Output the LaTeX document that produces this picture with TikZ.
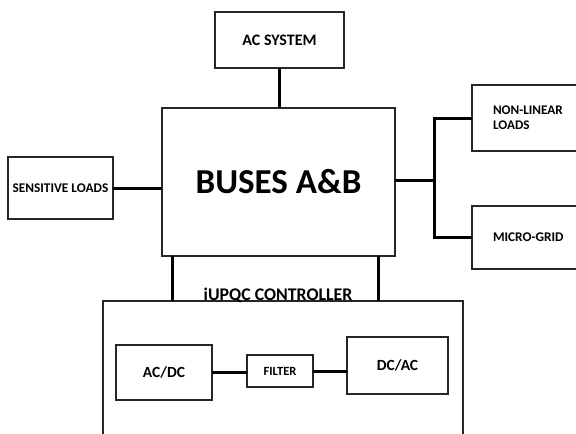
\documentclass[tikz,border=0pt]{standalone}
\usepackage{fontspec}
\setmainfont{Carlito}
\begin{document}
\begin{tikzpicture}[x=1pt,y=-1pt,
  box/.style={draw=black!85, line width=1.6pt, inner sep=0pt, outer sep=0pt, align=center},
  wire/.style={line width=3pt, black},
  fs/.style={font=\bfseries\fontsize{#1}{#1}\selectfont}]
\useasboundingbox (0,0) rectangle (576,434);
\clip (0,0) rectangle (576,434);
\node[box, fs=16, minimum width=129pt, minimum height=56pt] (ac) at (279.5,40) {AC SYSTEM};
\node[box, fs=35, minimum width=233pt, minimum height=148pt] (buses) at (278.5,182) {BUSES A\&B};
\node[box, fs=13.3, minimum width=105pt, minimum height=62pt] (sens) at (60.5,188) {SENSITIVE LOADS};
\node[box, fs=13.2, minimum width=118pt, minimum height=66pt, text width=76pt, inner xsep=21pt, align=left] (nl) at (531,118) {NON-LINEAR\\[2pt]LOADS};
\node[box, fs=13.3, minimum width=118pt, minimum height=63pt, text width=76pt, inner xsep=21pt, align=left] (mg) at (531,237.5) {MICRO-GRID};
\node[box, minimum width=360pt, minimum height=149pt] (ctrl) at (283,375.5) {};
\node[fs=17.8, anchor=base, inner sep=0pt] (lbl) at (278,300.5) {iUPQC CONTROLLER};
\node[box, fs=15.5, minimum width=96pt, minimum height=55pt] (acdc) at (164,372.5) {AC/DC};
\node[box, fs=12.5, minimum width=66pt, minimum height=32pt] (filter) at (280,371) {FILTER};
\node[box, fs=15.5, minimum width=101pt, minimum height=57pt] (dcac) at (397.5,365.5) {DC/AC};
\coordinate (j) at (434,180);
\draw[wire] (ac.south) -- (ac.south |- buses.north);
\draw[wire] (sens.east) -- (sens.east -| buses.west);
\draw[wire] (buses.east |- j) -- (j);
\draw[wire] (nl.west) -| (j) |- (mg.west);
\draw[wire] ([xshift=10pt]buses.south west) -- ([xshift=10pt]buses.south west |- ctrl.north);
\draw[wire] ([xshift=-17pt]buses.south east) -- ([xshift=-17pt]buses.south east |- ctrl.north);
\draw[wire] (acdc.east) -- (acdc.east -| filter.west);
\draw[wire] (filter.east) -- (filter.east -| dcac.west);
\end{tikzpicture}
\end{document}
